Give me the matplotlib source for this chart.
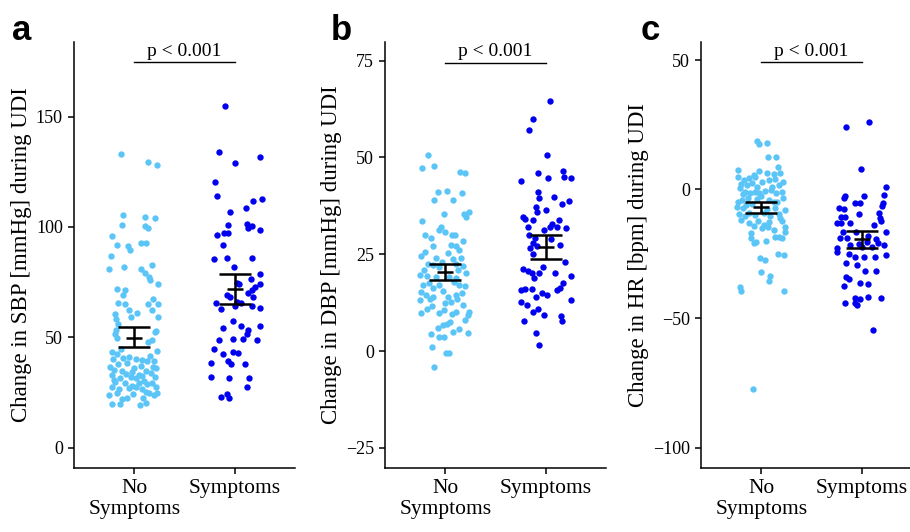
import numpy as np
import matplotlib
matplotlib.use("Agg")
import matplotlib.pyplot as plt

# groups on the x axis
groups = ["No\nSymptoms", "Symptoms"]

# ---- panel a: change in SBP (values + horizontal jitter)
sbp_no = [132.9, 129.3, 128.1, 105.4, 104.7, 104.2, 100.9, 100.6, 99.7, 95.8,
          91.7, 91.5, 89.6, 92.6, 92.6, 86.9, 81.9, 80.8, 82.8, 80.8,
          79.3, 77.5, 76.0, 74.0, 71.9, 71.4, 69.2, 67.2, 65.1, 65.3,
          65.4, 65.0, 62.4, 60.6, 61.2, 59.4, 58.5, 59.4, 62.4, 55.9,
          53.3, 52.6, 52.9, 51.4, 49.8, 48.8, 47.7, 43.2, 42.4, 40.5,
          40.0, 40.2, 39.7, 39.4, 39.3, 37.9, 38.2, 37.0, 35.9, 35.2,
          34.9, 34.4, 34.9, 33.7, 32.9, 31.7, 31.9, 31.4, 32.5, 32.2,
          29.9, 29.2, 29.5, 28.9, 29.2, 27.6, 26.4, 26.9, 27.3, 26.4,
          27.3, 23.9, 24.6, 24.3, 25.4, 23.9, 24.6, 19.8, 19.6, 19.3,
          20.1, 22.4, 36.5, 44.5, 36.0, 33.0, 41.5, 30.5, 30.0, 33.5,
          36.5, 28.0, 25.0, 22.0, 22.5, 41.0, 44.0]
sbp_no_jit = [-0.13, 0.14, 0.23, -0.11, 0.11, 0.21, -0.12, 0.11, 0.14, -0.22,
              -0.17, -0.06, -0.04, 0.07, 0.12, -0.23, -0.10, -0.25, 0.18, 0.07,
              0.11, 0.15, 0.16, 0.24, -0.17, -0.09, -0.11, 0.19, 0.14, 0.24,
              -0.16, -0.09, -0.05, -0.19, 0.03, -0.03, -0.18, 0.24, 0.18, -0.16,
              -0.18, 0.21, 0.22, -0.19, -0.17, 0.18, 0.14, -0.22, -0.17, -0.11,
              -0.21, 0.02, 0.08, 0.13, 0.20, -0.16, -0.07, 0.07, 0.22, -0.20,
              -0.12, -0.02, 0.12, 0.17, -0.22, -0.14, -0.03, 0.02, 0.08, 0.21,
              -0.19, -0.09, 0.05, 0.13, 0.18, -0.22, -0.15, -0.05, 0.02, 0.08,
              0.22, -0.25, -0.17, -0.01, 0.12, 0.20, 0.23, -0.22, -0.14, 0.06,
              0.12, -0.07, -0.24, -0.13, 0.00, 0.05, 0.16, -0.20, 0.10, -0.08,
              0.19, -0.02, 0.15, -0.12, 0.09, -0.05, 0.23]
sbp_sym = [154.8, 134.1, 131.9, 128.9, 120.5, 114.0, 112.5, 111.9, 108.5, 106.6,
           100.9, 101.4, 100.6, 99.4, 98.6, 97.1, 97.1, 96.2, 91.8, 85.8,
           85.3, 85.8, 82.0, 78.7, 76.6, 74.3, 74.3, 72.6, 71.4, 74.5,
           69.0, 68.1, 69.9, 68.1, 65.4, 66.0, 65.7, 64.2, 63.3, 62.7,
           64.2, 54.1, 57.4, 55.3, 53.3, 55.1, 51.5, 48.8, 49.2, 49.2,
           48.8, 44.6, 42.4, 43.5, 42.7, 38.2, 39.4, 37.9, 37.9, 32.2,
           31.4, 31.7, 27.6, 23.1, 24.2, 22.7]
sbp_sym_jit = [-0.10, -0.16, 0.25, 0.00, -0.20, -0.18, 0.27, 0.18, 0.11, -0.05,
               -0.07, 0.12, 0.17, 0.13, 0.25, -0.11, -0.07, -0.18, -0.12, -0.08,
               -0.21, 0.17, -0.01, 0.25, 0.16, 0.04, 0.25, 0.20, 0.17, 0.02,
               -0.08, -0.05, 0.13, 0.18, -0.19, 0.02, 0.06, 0.17, 0.25, -0.14,
               0.00, -0.12, -0.02, 0.06, 0.13, 0.25, 0.12, -0.16, -0.02, 0.08,
               0.22, -0.21, -0.12, -0.02, 0.03, -0.24, -0.07, -0.04, 0.10, -0.24,
               -0.06, 0.14, 0.12, -0.14, -0.08, -0.06]
sbp_mean = [49.8, 72.1]
sbp_lo = [45.5, 65.3]
sbp_hi = [54.5, 78.7]

# ---- panel b: change in DBP
dbp_no = [50.5, 47.3, 47.9, 46.2, 46.1, 41.0, 41.3, 40.7, 39.0, 39.0,
          35.5, 35.5, 36.0, 34.5, 33.6, 31.2, 30.8, 29.9, 29.9, 29.3,
          29.9, 28.5, 27.2, 27.2, 26.1, 25.6, 24.5, 25.2, 23.7, 23.9,
          22.6, 22.2, 22.6, 21.9, 21.8, 19.6, 19.4, 20.1, 19.2, 18.8,
          17.5, 17.0, 17.0, 16.8, 16.2, 15.5, 15.3, 14.5, 14.0, 14.0,
          14.5, 14.9, 13.2, 12.7, 13.4, 11.6, 10.8, 10.6, 10.2, 9.7,
          9.7, 9.6, 10.2, 9.3, 8.0, 7.6, 6.9, 6.7, 5.9, 5.7,
          5.0, 4.3, 3.7, 3.5, 4.6, 1.1, -0.4, -0.4, -4.0,
          21.0, 23.0, 21.0, 17.8, 13.5, 12.0, 19.0, 12.5, 24.0, 17.0, 27.5, 32.0]
dbp_no_jit = [-0.17, -0.23, -0.11, 0.15, 0.20, -0.07, 0.02, 0.17, -0.11, 0.08,
              -0.01, 0.19, 0.24, 0.21, -0.23, -0.06, 0.00, 0.10, -0.20, -0.14,
              0.07, 0.18, -0.12, 0.11, 0.14, -0.20, -0.24, 0.03, 0.08, -0.09,
              -0.17, -0.12, 0.11, 0.18, -0.06, -0.25, -0.18, 0.21, 0.04, 0.11,
              -0.16, -0.06, 0.14, 0.20, -0.12, -0.02, -0.24, -0.19, -0.12, 0.03,
              0.11, 0.17, -0.25, 0.06, 0.12, -0.13, -0.18, -0.01, 0.11, -0.24,
              -0.06, 0.07, 0.24, 0.23, 0.20, 0.05, 0.02, -0.02, -0.07, 0.14,
              0.08, -0.14, -0.06, -0.01, 0.23, -0.13, 0.01, 0.04, -0.11,
              -0.21, -0.03, 0.13, 0.09, -0.15, 0.18, -0.09, 0.00, 0.16, -0.22, 0.06, -0.04]
dbp_sym = [64.5, 60.0, 57.1, 50.6, 43.9, 46.1, 44.8, 46.4, 45.0, 44.8,
           38.7, 41.1, 37.9, 39.8, 39.4, 37.1, 36.0, 36.4, 34.5, 34.2,
           33.8, 33.8, 32.8, 32.1, 32.1, 32.1, 31.2, 31.7, 29.1, 28.0,
           26.5, 25.0, 27.1, 22.9, 21.3, 20.7, 20.1, 18.8, 20.2, 21.8,
           20.2, 19.4, 17.6, 16.2, 15.7, 15.7, 15.9, 15.9, 14.5, 14.9,
           14.0, 13.3, 12.7, 11.9, 10.2, 10.8, 9.3, 9.1, 7.8, 7.7,
           4.7, 1.5, 27.5, 30.0, 29.0]
dbp_sym_jit = [0.04, -0.13, -0.17, 0.01, -0.25, -0.08, 0.02, 0.17, 0.18, 0.25,
               0.23, -0.08, 0.16, 0.08, -0.07, -0.10, -0.09, 0.00, -0.23, -0.21,
               -0.13, 0.13, 0.06, 0.04, 0.11, -0.18, -0.02, 0.20, -0.11, -0.13,
               -0.16, -0.13, -0.09, 0.19, -0.23, -0.18, -0.14, -0.12, -0.07, -0.03,
               0.09, 0.25, 0.17, 0.14, 0.11, -0.25, -0.21, -0.14, 0.01, -0.04,
               -0.10, 0.25, -0.25, -0.19, -0.13, -0.08, -0.02, 0.15, 0.16, -0.22,
               -0.10, -0.07, 0.14, -0.17, 0.05]
dbp_mean = [20.3, 26.8]
dbp_lo = [18.3, 23.7]
dbp_hi = [22.4, 29.9]

# ---- panel c: change in HR
hr_no = [-77.3, 18.5, 17.6, 17.8, 12.6, 12.3, 8.8, 7.4, 7.2, 6.2,
         5.9, 6.2, 4.9, 3.6, 4.3, 4.9, 3.0, 3.6, 3.9, 2.1,
         1.7, 2.3, 1.0, 1.7, 0.4, -0.9, -1.5, -0.9, -1.3, -0.6,
         -0.3, -1.5, -0.9, -4.8, -4.1, -3.5, -3.7, -4.1, -4.8, -3.5,
         -6.7, -7.4, -5.7, -7.7, -7.4, -8.0, -9.6, -10.3, -9.9, -9.3,
         -10.3, -9.6, -11.9, -12.9, -12.1, -12.5, -12.1, -14.2, -15.1, -14.5,
         -15.7, -14.8, -17.0, -18.3, -19.0, -16.7, -19.0, -20.7, -20.3, -19.9,
         -18.6, -26.5, -27.4, -25.0, -25.4, -31.9, -33.6, -35.5, -37.7, -39.2,
         -39.4, -6.0, -2.5, 1.0, 5.5, -11.0, -2.0, -14.0, -5.0, -9.0, 3.0]
hr_no_jit = [-0.08, -0.04, -0.02, 0.06, 0.07, 0.15, 0.17, -0.23, -0.02, 0.06,
             0.13, 0.19, -0.23, -0.17, -0.12, -0.06, 0.01, 0.08, 0.14, -0.20,
             -0.14, -0.09, -0.04, 0.18, -0.21, -0.16, -0.11, -0.06, -0.02, 0.04,
             0.10, 0.15, 0.21, -0.23, -0.19, -0.13, -0.04, 0.08, 0.13, 0.22,
             -0.24, -0.18, -0.09, 0.06, 0.14, 0.24, -0.22, -0.16, -0.06, 0.03,
             0.09, 0.18, -0.20, -0.12, -0.03, 0.08, 0.21, -0.07, 0.01, 0.07,
             0.13, 0.24, -0.10, 0.14, 0.21, 0.24, -0.10, -0.07, -0.05, 0.05,
             0.18, -0.01, 0.04, 0.17, 0.23, 0.00, 0.09, 0.08, -0.21, -0.20,
             0.23, -0.15, 0.00, 0.11, -0.07, 0.19, -0.18, 0.03, 0.16, -0.12, 0.22]
hr_sym = [24.1, 26.2, 7.9, 0.8, -2.6, -3.5, -2.8, -2.2, -5.4, -5.4,
          -5.4, -6.5, -7.1, -7.7, -9.3, -9.7, -10.6, -10.6, -11.2, -12.1,
          -12.9, -12.9, -12.9, -16.4, -16.4, -16.4, -19.0, -19.0, -20.3, -19.4,
          -20.9, -22.8, -24.1, -21.6, -22.2, -22.2, -21.6, -25.2, -26.1, -26.1,
          -26.1, -25.4, -28.7, -29.3, -31.6, -31.6, -34.1, -34.9, -37.3, -36.4,
          -36.8, -42.0, -42.3, -41.6, -42.0, -43.9, -44.1, -44.8, -54.6,
          -18.0, -21.0, -14.0]
hr_sym_jit = [-0.16, 0.07, -0.01, 0.24, -0.17, -0.18, 0.02, 0.22, -0.07, -0.02,
              0.21, 0.20, -0.23, -0.18, 0.17, -0.03, -0.21, -0.17, 0.18, 0.19,
              -0.25, -0.21, -0.12, -0.19, -0.06, 0.24, -0.22, -0.15, 0.05, 0.14,
              0.16, -0.25, -0.25, -0.12, 0.00, 0.10, 0.22, -0.13, -0.07, 0.02,
              0.13, 0.24, -0.16, -0.05, 0.03, 0.14, -0.16, -0.13, -0.18, -0.02,
              0.06, -0.07, -0.02, 0.06, 0.19, -0.17, -0.07, -0.05, 0.11,
              0.06, -0.03, 0.12]
hr_mean = [-7.0, -19.2]
hr_lo = [-9.3, -22.8]
hr_hi = [-4.8, -16.1]

# axis labels / ticks / limits per panel
ylabels = ["Change in SBP [mmHg] during UDI",
           "Change in DBP [mmHg] during UDI",
           "Change in HR [bpm] during UDI"]
yticks = [[0, 50, 100, 150], [-25, 0, 25, 50, 75], [-100, -50, 0, 50]]
ylims = [(-9.2, 183.8), (-30.2, 79.8), (-107.9, 57.0)]
p_line_y = [174.6, 74.5, 49.2]
p_text = "p < 0.001"
letters = ["a", "b", "c"]

col_no = "#5BC5F8"
col_sym = "#0000EE"

plt.rcParams['font.family'] = ['Liberation Serif', 'DejaVu Serif']
plt.rcParams['axes.unicode_minus'] = True

fig = plt.figure(figsize=(9.1, 5.32), dpi=100)

lefts = [74, 385, 701]
letter_x = [12, 331, 641]

panels = [
    (sbp_no, sbp_no_jit, sbp_sym, sbp_sym_jit, sbp_mean, sbp_lo, sbp_hi),
    (dbp_no, dbp_no_jit, dbp_sym, dbp_sym_jit, dbp_mean, dbp_lo, dbp_hi),
    (hr_no, hr_no_jit, hr_sym, hr_sym_jit, hr_mean, hr_lo, hr_hi),
]

for i, (v_no, j_no, v_sym, j_sym, m, lo, hi) in enumerate(panels):
    ax = fig.add_axes([lefts[i] / 910, (532 - 468) / 532, 221 / 910, 426 / 532])

    # jittered points
    ax.scatter(1 + np.array(j_no), v_no, s=21, color=col_no, linewidths=0, zorder=2)
    ax.scatter(2 + np.array(j_sym), v_sym, s=21, color=col_sym, linewidths=0, zorder=2)

    # mean +/- error
    m = np.array(m)
    yerr = [m - np.array(lo), np.array(hi) - m]
    ax.errorbar([1, 2], m, yerr=yerr, fmt='_', color='black', markersize=11,
                mew=1.8, elinewidth=1.8, capsize=11.3, capthick=1.8, zorder=3)

    # significance bar
    ax.plot([1, 2], [p_line_y[i], p_line_y[i]], color='black', lw=1.0)
    ax.annotate(p_text, xy=(1.5, p_line_y[i]), xytext=(0, 1.5),
                textcoords='offset points', ha='center', va='bottom', fontsize=14)

    ax.set_xlim(0.4, 2.6)
    ax.set_ylim(*ylims[i])
    ax.set_xticks([1, 2])
    ax.set_xticklabels(groups, fontsize=15.5, linespacing=1.15)
    ax.set_yticks(yticks[i])
    ax.tick_params(axis='y', labelsize=13)
    ax.tick_params(direction='out', length=4.5, width=1.1, colors='black')
    ax.set_ylabel(ylabels[i], fontsize=16.5, labelpad=3)

    for s in ['top', 'right']:
        ax.spines[s].set_visible(False)
    for s in ['left', 'bottom']:
        ax.spines[s].set_linewidth(1.1)

    fig.text(letter_x[i] / 910, 1 - 40 / 532, letters[i], fontsize=25,
             fontweight='bold', family='Liberation Sans', va='baseline')

fig.savefig("out.png", dpi=100)
